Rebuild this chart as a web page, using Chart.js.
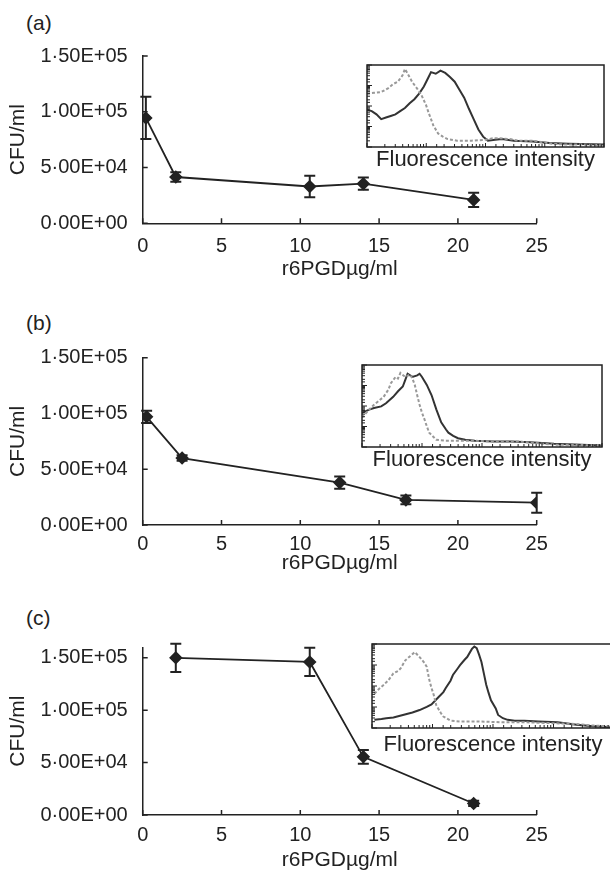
<!DOCTYPE html>
<html>
<head>
<meta charset="utf-8">
<script src="https://cdn.jsdelivr.net/npm/chart.js@4.4.0/dist/chart.umd.min.js"></script>
<style>
  body { margin: 0; background: #fff; }
  #wrap { position: relative; width: 610px; height: 874px; overflow: hidden; }
  canvas { position: absolute; }
  .lbl { position: absolute; font: 21px 'Liberation Sans', Arial, sans-serif; line-height: 24px; color: #222; }
</style>
</head>
<body>
<div id="wrap">
  <div class="lbl" style="left:26px;top:11px">(a)</div>
  <div class="lbl" style="left:26px;top:311px">(b)</div>
  <div class="lbl" style="left:26px;top:606px">(c)</div>
  <canvas id="chart-a"></canvas>
  <canvas id="chart-b"></canvas>
  <canvas id="chart-c"></canvas>
  <canvas id="inset-a"></canvas>
  <canvas id="inset-b"></canvas>
  <canvas id="inset-c"></canvas>
</div>
<script>
// axis ticks shared by the three panels
const xTicks = [0, 5, 10, 15, 20, 25];
const yTicks = [0, 50000, 100000, 150000];
const yTickLabels = ['0·00E+00', '5·00E+04', '1·00E+05', '1·50E+05'];
const xTitle = 'r6PGDµg/ml';
const yTitle = 'CFU/ml';
const insetTitle = 'Fluorescence intensity';

// (a)
const concA = [0.2, 2.1, 10.6, 14, 21];
const cfuA = [94500, 41500, 33000, 35500, 21000];
const errA = [19000, 4200, 9700, 5500, 6300];
// (b)
const concB = [0.25, 2.5, 12.5, 16.7, 25];
const cfuB = [97000, 60000, 38000, 22500, 20000];
const errB = [5500, 2500, 5500, 4000, 9000];
// (c)
const concC = [2.1, 10.6, 14, 21];
const cfuC = [150000, 146000, 55500, 11000];
const errC = [13500, 13500, 6500, 2500];

// flow histograms in the insets: [x % of width, y % of height]
const histAGray = [[0,67],[3,68],[6,69],[9,74],[11,79],[13,82],[15,90],[16,98],[17,93],[19,82],[21,74],[23,65],[25,52],[26,43],[27,35],[28,27],[30,17],[32,13],[34,10],[38,8],[44,8],[50,9],[53,11],[56,11],[60,10],[64,8],[70,8],[74,6],[78,4],[85,3],[92,3],[100,2]];
const histABlack = [[0,47],[2,45],[4,41],[6,35],[8,37],[10,39],[12,41],[14,45],[16,49],[18,55],[20,60],[22,67],[24,76],[25,82],[26,88],[27,94],[29,92],[31,96],[33,93],[35,88],[37,82],[39,72],[41,62],[43,48],[45,35],[47,22],[49,13],[51,8],[54,9],[57,10],[62,8],[70,7],[77,5],[85,4],[100,3]];
const histBGray = [[0,37],[3,47],[5,53],[7,58],[9,63],[11,72],[12,80],[14,88],[15,86],[16,93],[18,88],[20,91],[21,86],[22,78],[23,65],[24,53],[25,43],[26,35],[27,26],[28,18],[30,12],[31,9],[35,8],[45,8],[55,7],[65,7],[72,5],[80,3],[100,2]];
const histBBlack = [[0,43],[3,47],[5,49],[8,51],[10,55],[13,63],[15,70],[17,76],[18,84],[19,92],[21,88],[23,90],[24,92],[25,88],[27,78],[29,65],[31,47],[33,31],[35,22],[36,18],[38,14],[40,11],[43,9],[47,8],[55,7],[62,7],[70,6],[80,4],[100,2]];
const histCGray = [[1,42],[3,48],[5,53],[7,59],[9,67],[11,70],[12,73],[14,83],[16,88],[18,93],[20,87],[22,80],[23,75],[24,60],[25,49],[26,40],[27,28],[29,18],[30,14],[33,9],[37,8],[45,8],[55,7],[65,7],[75,6],[85,5],[93,3],[100,2]];
const histCBlack = [[1,10],[4,11],[6,12],[9,13],[13,16],[17,19],[20,22],[23,26],[25,29],[28,38],[30,44],[31,49],[33,58],[34,65],[36,73],[37,77],[39,84],[40,87],[42,97],[43,100],[44,98],[45,90],[46,81],[47,67],[48,53],[49,43],[50,34],[52,24],[53,16],[55,12],[57,10],[60,9],[64,9],[70,8],[78,7],[86,4],[93,2],[100,1]];

const ink = '#222';
Chart.defaults.font.family = "'Liberation Sans', Arial, sans-serif";
Chart.defaults.color = ink;

const errorBars = {
  id: 'errorBars',
  beforeDatasetsDraw(chart) {
    const { ctx, scales: { x, y } } = chart;
    chart.data.datasets.forEach(ds => {
      if (!ds.errors) return;
      ctx.save();
      ctx.strokeStyle = ink;
      ctx.lineWidth = 2;
      ds.data.forEach((p, i) => {
        const e = ds.errors[i];
        const px = x.getPixelForValue(p.x);
        const top = y.getPixelForValue(p.y + e);
        const bot = y.getPixelForValue(p.y - e);
        ctx.beginPath();
        ctx.moveTo(px, top); ctx.lineTo(px, bot);
        ctx.moveTo(px - 5.5, top); ctx.lineTo(px + 5.5, top);
        ctx.moveTo(px - 5.5, bot); ctx.lineTo(px + 5.5, bot);
        ctx.stroke();
      });
      ctx.restore();
    });
  }
};

// tick marks that point into the plot area
const inwardTicks = {
  id: 'inwardTicks',
  afterDraw(chart, args, opts) {
    const { ctx, chartArea } = chart;
    ctx.save();
    ctx.strokeStyle = ink;
    ctx.lineWidth = opts.width || 1.5;
    ctx.beginPath();
    (opts.axes || []).forEach(a => {
      const s = chart.scales[a.id];
      s.ticks.forEach(t => {
        const len = t.major && a.major ? a.major : a.len;
        const p = s.getPixelForValue(t.value);
        if (s.isHorizontal()) {
          ctx.moveTo(p, chartArea.bottom); ctx.lineTo(p, chartArea.bottom - len);
        } else {
          ctx.moveTo(chartArea.left, p); ctx.lineTo(chartArea.left + len, p);
        }
      });
    });
    ctx.stroke();
    ctx.restore();
  }
};

const boxBorder = {
  id: 'boxBorder',
  afterDatasetsDraw(chart) {
    const { ctx, chartArea: a } = chart;
    ctx.save();
    ctx.strokeStyle = ink;
    ctx.lineWidth = 1.5;
    ctx.strokeRect(a.left, a.top, a.right - a.left, a.bottom - a.top);
    ctx.restore();
  }
};

function mainChart(id, conc, cfu, err, yMax, box) {
  const el = document.getElementById(id);
  el.width = 610; el.height = box.h;
  el.style.left = '0px'; el.style.top = box.top + 'px';
  const xAxisH = box.h - box.padBottom - box.areaBottom;
  new Chart(el, {
    type: 'line',
    data: {
      datasets: [{
        data: conc.map((x, i) => ({ x, y: cfu[i] })),
        errors: err,
        borderColor: ink,
        borderWidth: 1.8,
        pointStyle: 'rectRot',
        pointRadius: 5.5,
        pointBackgroundColor: ink,
        pointBorderColor: ink,
        tension: 0
      }]
    },
    options: {
      responsive: false,
      animation: false,
      layout: { padding: { top: box.areaTop, left: 0, right: 610 - 536.7, bottom: box.padBottom } },
      plugins: {
        legend: { display: false },
        tooltip: { enabled: false },
        inwardTicks: { axes: [{ id: 'x', len: 5 }, { id: 'y', len: 5 }] }
      },
      scales: {
        x: {
          type: 'linear', min: 0, max: 25,
          afterBuildTicks: s => { s.ticks = xTicks.map(v => ({ value: v })); },
          afterFit: s => { s.height = xAxisH; },
          grid: { display: false, drawTicks: false },
          border: { color: ink, width: 1.5 },
          ticks: { padding: box.tickPad, font: { size: 20 }, color: ink },
          title: { display: true, text: xTitle, font: { size: 21 }, color: ink, padding: 0 }
        },
        y: {
          type: 'linear', min: 0, max: yMax,
          afterBuildTicks: s => { s.ticks = yTicks.map(v => ({ value: v })); },
          afterFit: s => { s.width = 142.7; },
          grid: { display: false, drawTicks: false },
          border: { color: ink, width: 1.5 },
          ticks: { padding: 15, font: { size: 20 }, color: ink, callback: v => yTickLabels[yTicks.indexOf(v)] },
          title: { display: true, text: yTitle, font: { size: 21 }, color: ink, padding: { top: 5.7, bottom: 0 } }
        }
      }
    },
    plugins: [errorBars, inwardTicks]
  });
}

function insetChart(id, gray, black, xMax, box) {
  const el = document.getElementById(id);
  el.width = box.w; el.height = box.h;
  el.style.left = box.left + 'px'; el.style.top = box.top + 'px';
  new Chart(el, {
    type: 'line',
    data: {
      datasets: [
        { data: gray.map(([x, y]) => ({ x, y })), borderColor: '#999', borderDash: [3, 2], borderWidth: 2, pointRadius: 0, tension: 0 },
        { data: black.map(([x, y]) => ({ x, y })), borderColor: '#333', borderWidth: 2, pointRadius: 0, tension: 0 }
      ]
    },
    options: {
      responsive: false,
      animation: false,
      layout: { padding: { top: 2, left: 2, right: 2, bottom: 0 } },
      plugins: {
        legend: { display: false },
        tooltip: { enabled: false },
        inwardTicks: { width: 1, axes: [{ id: 'lx', len: 3, major: 4 }, { id: 'ly', len: 3, major: 5 }] }
      },
      scales: {
        x: {
          type: 'linear', min: 0, max: xMax,
          ticks: { display: false },
          grid: { display: false, drawTicks: false },
          border: { display: false },
          afterFit: s => { s.height = box.axisH; },
          title: { display: true, text: insetTitle, font: { size: 22 }, color: ink, padding: 0 }
        },
        y: { type: 'linear', min: 0, max: 103, display: false },
        lx: { type: 'logarithmic', axis: 'x', position: 'bottom', min: 1, max: 10000, display: false, ticks: { autoSkip: false } },
        ly: { type: 'logarithmic', axis: 'y', position: 'left', min: 1, max: 10000, display: false, ticks: { autoSkip: false } }
      }
    },
    plugins: [boxBorder, inwardTicks]
  });
}

mainChart('chart-a', concA, cfuA, errA, 150000, { top: 0, h: 290, areaTop: 56, areaBottom: 223.3, padBottom: 8.4, tickPad: 11 });
mainChart('chart-b', concB, cfuB, errB, 150000, { top: 290, h: 290, areaTop: 67.7, areaBottom: 235, padBottom: 4.4, tickPad: 7 });
mainChart('chart-c', concC, cfuC, errC, 160000, { top: 580, h: 294, areaTop: 67.3, areaBottom: 235, padBottom: 1.4, tickPad: 8 });

insetChart('inset-a', histAGray, histABlack, 100, { left: 365, top: 63, w: 241, h: 110, axisH: 26 });
insetChart('inset-b', histBGray, histBBlack, 100, { left: 360, top: 363, w: 244, h: 110, axisH: 26 });
insetChart('inset-c', histCGray, histCBlack, 101.7, { left: 370, top: 642, w: 246, h: 116, axisH: 30 });
</script>
</body>
</html>
